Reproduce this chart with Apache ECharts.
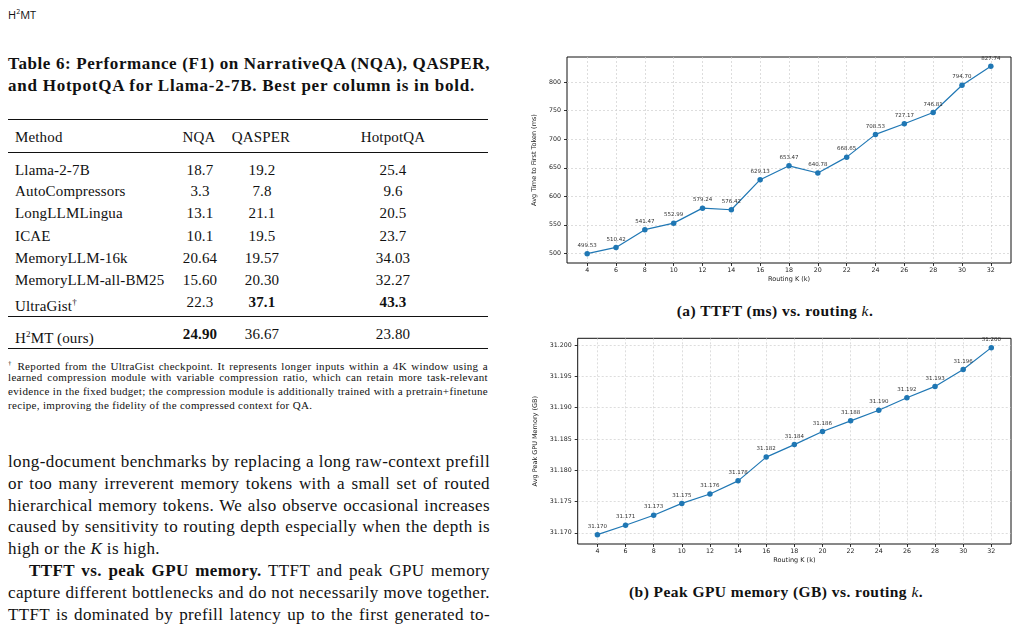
<!DOCTYPE html>
<html>
<head>
<meta charset="utf-8">
<script src="https://cdn.jsdelivr.net/npm/echarts@6/dist/echarts.min.js"></script>
<style>
  body { margin: 0; width: 1019px; height: 628px; background: #fff; position: relative; overflow: hidden;
         font-family: "Liberation Serif", serif; color: #111; }
  .t { position: absolute; white-space: nowrap; }
  .j { position: absolute; text-align: justify; text-align-last: justify; white-space: nowrap; }
  .rule { position: absolute; left: 8px; width: 480px; background: #111; }
  #charts { position: absolute; left: 510px; top: 40px; width: 509px; height: 535px; }
</style>
</head>
<body>

<div class="t" style="left:8px;top:3px;font:11px 'Open Sans',sans-serif;line-height:18px;">H<sup style="font-size:7px;">2</sup>MT</div>

<div class="j" style="left:8px;top:54px;width:482px;font-weight:bold;font-size:17px;letter-spacing:0.6px;line-height:20px;">Table 6: Performance (F1) on NarrativeQA (NQA), QASPER,</div>
<div class="t" style="left:8px;top:76px;font-weight:bold;font-size:17px;letter-spacing:0.75px;line-height:20px;">and HotpotQA for Llama-2-7B. Best per column is in bold.</div>

<div id="table"></div>

<div id="foot" style="font-size:11px;letter-spacing:0.32px;"></div>

<div id="body" style="font-size:17px;letter-spacing:0.38px;"></div>

<div class="t" style="left:0;width:1550px;top:301px;text-align:center;font-weight:bold;font-size:15.5px;letter-spacing:0.45px;line-height:20px;">(a) TTFT (ms) vs. routing <i style="font-weight:normal;">k</i>.</div>
<div class="t" style="left:0;width:1552px;top:582px;text-align:center;font-weight:bold;font-size:15.5px;letter-spacing:0.45px;line-height:20px;">(b) Peak GPU memory (GB) vs. routing <i style="font-weight:normal;">k</i>.</div>

<div id="charts"></div>

<script>
// ---- table 6 ----
var methods = ["Llama-2-7B", "AutoCompressors", "LongLLMLingua", "ICAE", "MemoryLLM-16k",
               "MemoryLLM-all-BM25", "UltraGist<sup style='font-size:9px'>&dagger;</sup>", "H<sup style='font-size:9px'>2</sup>MT (ours)"];
var nqa     = ["18.7", "3.3", "13.1", "10.1", "20.64", "15.60", "22.3", "<b>24.90</b>"];
var qasper  = ["19.2", "7.8", "21.1", "19.5", "19.57", "20.30", "<b>37.1</b>", "36.67"];
var hotpot  = ["25.4", "9.6", "20.5", "23.7", "34.03", "32.27", "<b>43.3</b>", "23.80"];
var rowY    = [170, 191, 213, 236, 258, 280, 302, 334];

// ---- figure data ----
var routingK = [4, 6, 8, 10, 12, 14, 16, 18, 20, 22, 24, 26, 28, 30, 32];
var ttftMs = [499.53, 510.42, 541.47, 552.99, 579.24, 576.42, 629.13, 653.47,
              640.78, 668.65, 708.53, 727.17, 746.81, 794.70, 827.74];
var peakMemGB = [31.1697, 31.1712, 31.1728, 31.1747, 31.1762, 31.1783, 31.1821, 31.1841,
                 31.1862, 31.1879, 31.1896, 31.1916, 31.1934, 31.1961, 31.1996];
var kTicks = [4, 6, 8, 10, 12, 14, 16, 18, 20, 22, 24, 26, 28, 30, 32];
var ttftTicks = [500, 550, 600, 650, 700, 750, 800];
var memTicks = [31.170, 31.175, 31.180, 31.185, 31.190, 31.195, 31.200];

function cell(html, x, y, align) {
  var s = '<div class="t" style="top:' + (y - 10) + 'px;line-height:20px;font-size:15px;letter-spacing:0.15px;';
  if (align === 'c') s += 'left:' + (x - 50) + 'px;width:100px;text-align:center;';
  else s += 'left:' + x + 'px;';
  return s + '">' + html + '</div>';
}

var html = '';
html += '<div class="rule" style="top:119px;height:1.4px;"></div>';
html += '<div class="rule" style="top:152px;height:1px;"></div>';
html += '<div class="rule" style="top:316px;height:1px;"></div>';
html += '<div class="rule" style="top:348px;height:1.4px;"></div>';
html += cell("Method", 15, 137) + cell("NQA", 199, 137, 'c') + cell("QASPER", 261, 137, 'c') + cell("HotpotQA", 393, 137, 'c');
for (var i = 0; i < methods.length; i++) {
  html += cell(methods[i], 15, rowY[i]) + cell(nqa[i], 200, rowY[i], 'c') +
          cell(qasper[i], 262, rowY[i], 'c') + cell(hotpot[i], 393, rowY[i], 'c');
}
document.getElementById('table').innerHTML = html;

var footLines = [
  "<sup style='font-size:7px'>&dagger;</sup> Reported from the UltraGist checkpoint. It represents longer inputs within a 4K window using a",
  "learned compression module with variable compression ratio, which can retain more task-relevant",
  "evidence in the fixed budget; the compression module is additionally trained with a pretrain+finetune",
  "recipe, improving the fidelity of the compressed context for QA."
];
var footY = [363, 377, 391, 405];
html = '';
footLines.forEach(function (l, i) {
  var last = i === footLines.length - 1;
  html += '<div class="' + (last ? 't' : 'j') + '" style="left:8px;width:480px;top:' + (footY[i] - 7) +
          'px;line-height:14px;">' + l + '</div>';
});
document.getElementById('foot').innerHTML = html;

var bodyLines = [
  "long-document benchmarks by replacing a long raw-context prefill",
  "or too many irreverent memory tokens with a small set of routed",
  "hierarchical memory tokens. We also observe occasional increases",
  "caused by sensitivity to routing depth especially when the depth is",
  "high or the <i>K</i> is high.",
  "<b>TTFT vs. peak GPU memory.</b> TTFT and peak GPU memory",
  "capture different bottlenecks and do not necessarily move together.",
  "TTFT is dominated by prefill latency up to the first generated to-"
];
html = '';
bodyLines.forEach(function (l, i) {
  var y = 462 + i * 21.8;
  var cls = i === 4 ? 't' : 'j';
  var x = i === 5 ? 29 : 8;
  html += '<div class="' + cls + '" style="left:' + x + 'px;width:' + (490 - x) + 'px;top:' + (y - 11) +
          'px;line-height:22px;">' + l + '</div>';
});
document.getElementById('body').innerHTML = html;

// ---- charts ----
function padded(arr) {
  var lo = Math.min.apply(null, arr), hi = Math.max.apply(null, arr), r = hi - lo;
  return [lo - 0.05 * r, hi + 0.05 * r];
}
var kRange = padded(routingK);
var ttftRange = padded(ttftMs);
var memRange = padded(peakMemGB);

var textColor = '#222';
var fontFamily = 'DejaVu Sans';

function xAxisFor(gridIndex) {
  return {
    type: 'value', gridIndex: gridIndex, min: kRange[0], max: kRange[1],
    name: 'Routing K (k)', nameLocation: 'middle', nameGap: 13,
    nameTextStyle: { fontSize: 6.5, color: textColor, fontFamily: fontFamily },
    axisLine: { show: false },
    axisTick: { show: true, customValues: kTicks, length: 3, lineStyle: { color: '#000', width: 0.8 } },
    axisLabel: { customValues: kTicks, fontSize: 6.3, color: textColor, margin: 4.5, fontFamily: fontFamily },
    splitLine: { show: true, lineStyle: { type: [2, 2], color: '#cfcfcf', width: 0.7 } }
  };
}
function yAxisFor(gridIndex, range, ticks, digits, name, gap) {
  return {
    type: 'value', gridIndex: gridIndex, min: range[0], max: range[1],
    name: name, nameLocation: 'middle', nameGap: gap,
    nameTextStyle: { fontSize: 6.5, color: textColor, fontFamily: fontFamily },
    axisLine: { show: false },
    axisTick: { show: true, customValues: ticks, length: 3, lineStyle: { color: '#000', width: 0.8 } },
    axisLabel: { customValues: ticks, fontSize: 6.3, color: textColor, margin: 6,
                 fontFamily: fontFamily, formatter: function (v) { return v.toFixed(digits); } },
    splitLine: { show: true, lineStyle: { type: [2, 2], color: '#cfcfcf', width: 0.7 } }
  };
}
function lineSeries(idx, values, digits) {
  return {
    type: 'line', xAxisIndex: idx, yAxisIndex: idx,
    data: routingK.map(function (k, i) { return [k, values[i]]; }),
    symbol: 'circle', symbolSize: 5.5,
    lineStyle: { width: 1.2, color: '#1f77b4' },
    itemStyle: { color: '#1f77b4' },
    label: { show: true, position: 'top', distance: 2.5, fontSize: 5.5, color: '#333', fontFamily: fontFamily,
             formatter: function (p) { return p.value[1].toFixed(digits); } },
    clip: false
  };
}

var chart = echarts.init(document.getElementById('charts'), null, { renderer: 'canvas' });
chart.setOption({
  animation: false,
  grid: [
    { left: 57, top: 17, width: 444, height: 206, show: true, borderColor: '#111', borderWidth: 1, backgroundColor: 'transparent' },
    { left: 67.7, top: 298.3, width: 433.3, height: 205.7, show: true, borderColor: '#111', borderWidth: 1, backgroundColor: 'transparent' }
  ],
  xAxis: [xAxisFor(0), xAxisFor(1)],
  yAxis: [
    yAxisFor(0, ttftRange, ttftTicks, 0, 'Avg Time to First Token (ms)', 9),
    yAxisFor(1, memRange, memTicks, 3, 'Avg Peak GPU Memory (GB)', 17)
  ],
  series: [lineSeries(0, ttftMs, 2), lineSeries(1, peakMemGB, 3)]
});
</script>
</body>
</html>
